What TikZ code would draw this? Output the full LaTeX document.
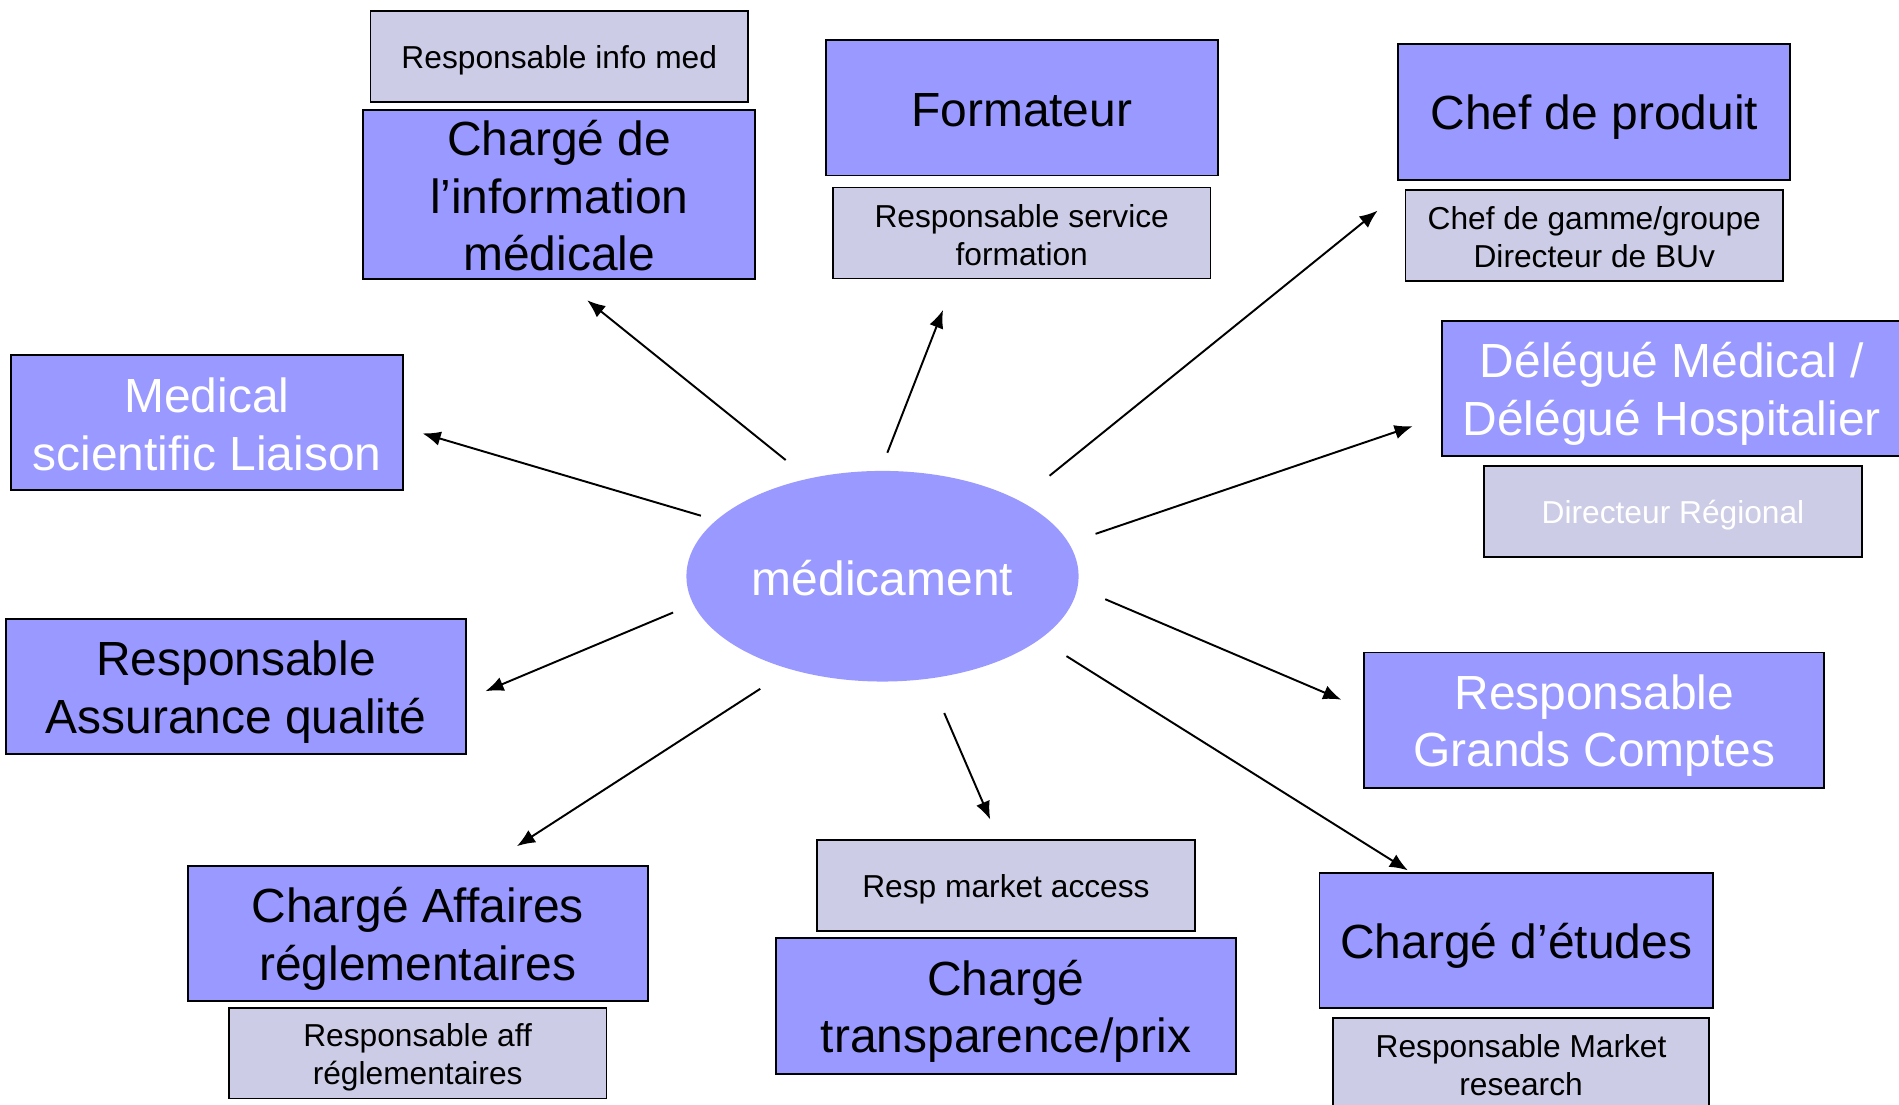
\documentclass[tikz,border=0pt]{standalone}
\usepackage{fontspec}
\setmainfont{Liberation Sans}
\usetikzlibrary{arrows.meta,shapes.geometric}
\definecolor{mblue}{HTML}{9999FF}
\definecolor{mgray}{HTML}{CCCCE6}
\newcommand\BigTxt{\fontsize{39.6}{47.5}\selectfont}
\newcommand\SmallTxt{\fontsize{26.2}{31.3}\selectfont}
\newcommand\LnStrut{\rule[\dimexpr-0.212em+2pt\relax]{0pt}{1.117em}}
\newcommand\TopS[1]{\rule[\dimexpr-0.212em+2pt\relax]{0pt}{\dimexpr1.117em+#1\relax}}
\begin{document}
\begin{tikzpicture}[x=1pt,y=-1pt,
  boxbase/.style={align=center, inner sep=0pt, execute at begin node=\LnStrut},
  mainbox/.style={boxbase, draw=black, line width=1.6pt, fill=mblue, minimum width=324pt, minimum height=112pt, font=\BigTxt},
  subbox/.style={boxbase, draw=black, line width=1.4pt, fill=mgray, minimum width=312pt, minimum height=75pt, font=\SmallTxt},
  wtxt/.style={text=white},
  arr/.style={line width=1.6pt, -{Latex[length=15pt,width=12pt]}}]
\useasboundingbox (0,0) rectangle (1568.7,912);
% boxes
\node[subbox] (rim) at (462,46.5) {Responsable info med\LnStrut};
\node[mainbox, minimum height=137pt] (cim) at (462,160.5) {\TopS{0pt}Chargé de\\l’information\\médicale};
\node[mainbox] (form) at (844,89) {Formateur\LnStrut};
\node[subbox] (rsf) at (844,192.5) {\TopS{0pt}Responsable service\\formation\LnStrut};
\node[mainbox] (cdp) at (1317,92.5) {Chef de produit\LnStrut};
\node[subbox] (cdg) at (1317,194.5) {\TopS{0pt}Chef de gamme/groupe\\Directeur de BUv\LnStrut};
\node[mainbox, wtxt, minimum width=380pt] (del) at (1381,321) {\TopS{0pt}Délégué Médical /\\Délégué Hospitalier\LnStrut};
\node[subbox, wtxt] (dir) at (1382,422.5) {Directeur Régional\LnStrut};
\node[mainbox, wtxt] (msl) at (171,349) {\TopS{0pt}Medical\\scientific Liaison\LnStrut};
\node[ellipse, boxbase, fill=mblue, minimum width=324pt, minimum height=174pt, text=white, font=\BigTxt] (med) at (729,476) {médicament\LnStrut};
\node[mainbox, minimum width=380pt] (raq) at (195,567) {\TopS{0pt}Responsable\\Assurance qualité\LnStrut};
\node[mainbox, wtxt, minimum width=380pt] (rgc) at (1317,595) {\TopS{0pt}Responsable\\Grands Comptes\LnStrut};
\node[mainbox, minimum width=380pt] (car) at (345,771) {\TopS{0pt}Chargé Affaires\\réglementaires\LnStrut};
\node[subbox] (raf) at (345,870) {\TopS{0pt}Responsable aff\\réglementaires\LnStrut};
\node[subbox] (rma) at (831,731.5) {Resp market access\LnStrut};
\node[mainbox, minimum width=380pt] (ctp) at (831,831) {\TopS{0pt}Chargé\\transparence/prix\LnStrut};
\node[mainbox, minimum width=325pt] (cde) at (1252.5,777) {Chargé d’études\LnStrut};
\node[subbox, minimum width=311pt] (rmr) at (1256.5,878.5) {\TopS{0pt}Responsable Market\\research\LnStrut};
% arrow end points
\coordinate (a1) at (649,380);  \coordinate (b1) at (485,248);
\coordinate (a2) at (733,374);  \coordinate (b2) at (779,256);
\coordinate (a3) at (867,393);  \coordinate (b3) at (1138,174);
\coordinate (a4) at (905,441);  \coordinate (b4) at (1167,352);
\coordinate (a5) at (579,426);  \coordinate (b5) at (349,358);
\coordinate (a6) at (556,506);  \coordinate (b6) at (401,571);
\coordinate (a7) at (628,569);  \coordinate (b7) at (427,699);
\coordinate (a8) at (780,589);  \coordinate (b8) at (818,677);
\coordinate (a9) at (913,495);  \coordinate (b9) at (1108,578);
\coordinate (a10) at (881,542); \coordinate (b10) at (1163,719);
\foreach \i in {1,...,10} {\draw[arr] (a\i) -- (b\i);}
\end{tikzpicture}
\end{document}
